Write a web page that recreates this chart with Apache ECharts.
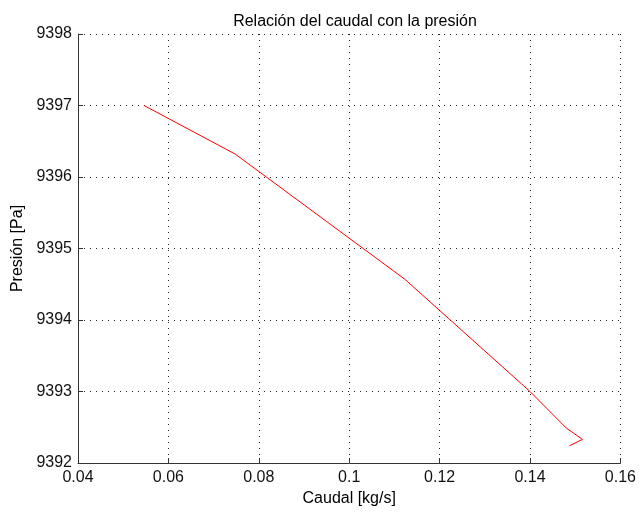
<!DOCTYPE html>
<html>
<head>
<meta charset="utf-8">
<script src="https://cdn.jsdelivr.net/npm/echarts@6/dist/echarts.min.js"></script>
<style>
  html, body { margin: 0; padding: 0; background: #ffffff; }
  #chart { width: 639px; height: 512px; }
</style>
</head>
<body>
<div id="chart"></div>
<script>
// Flow rate (kg/s) against pressure (Pa)
const caudal  = [0.0546, 0.0748, 0.1123, 0.1400, 0.1480, 0.1516, 0.1487];
const presion = [9397.00, 9396.32, 9394.57, 9393.00, 9392.49, 9392.33, 9392.24];

const xTicks = ['0.04', '0.06', '0.08', '0.1', '0.12', '0.14', '0.16'];
const yTicks = ['9392', '9393', '9394', '9395', '9396', '9397', '9398'];

const titleText = 'Relación del caudal con la presión';
const xName = 'Caudal [kg/s]';
const yName = 'Presión [Pa]';

const FONT = '"Liberation Sans", Arial, sans-serif';
const gridStyle = { color: '#222', width: 1, type: [1, 5] };

const chart = echarts.init(document.getElementById('chart'), null, { renderer: 'canvas' });

const xMin = parseFloat(xTicks[0]), xMax = parseFloat(xTicks[xTicks.length - 1]);
const yMin = parseFloat(yTicks[0]), yMax = parseFloat(yTicks[yTicks.length - 1]);

function nearestLabel(list, v) {
  let best = list[0], d = Infinity;
  list.forEach(t => { const dd = Math.abs(parseFloat(t) - v); if (dd < d) { d = dd; best = t; } });
  return best;
}

chart.setOption({
  animation: false,
  backgroundColor: '#ffffff',
  title: {
    text: titleText,
    left: 350, top: 9, textAlign: 'center',
    textStyle: { fontFamily: FONT, fontSize: 16, fontWeight: 'normal', color: '#000' }
  },
  grid: { left: 78, right: 16, top: 34, bottom: 48, containLabel: false },
  xAxis: {
    type: 'value',
    min: xMin, max: xMax, interval: 0.02,
    name: xName, nameLocation: 'middle', nameGap: 28,
    nameTextStyle: { fontFamily: FONT, fontSize: 16, color: '#000' },
    axisLine: { show: true, onZero: false, lineStyle: { color: '#333', width: 1 } },
    axisTick: { show: true, inside: true, length: 5, lineStyle: { color: '#333' } },
    axisLabel: {
      margin: 7, fontFamily: FONT, fontSize: 16, color: '#111',
      formatter: v => nearestLabel(xTicks, v)
    },
    splitLine: { show: true, lineStyle: gridStyle }
  },
  yAxis: {
    type: 'value',
    min: yMin, max: yMax, interval: 1,
    name: yName, nameLocation: 'middle', nameGap: 50, nameRotate: 90,
    nameTextStyle: { fontFamily: FONT, fontSize: 16, color: '#000' },
    axisLine: { show: true, onZero: false, lineStyle: { color: '#333', width: 1 } },
    axisTick: { show: true, inside: true, length: 5, lineStyle: { color: '#333' } },
    axisLabel: {
      margin: 6, fontFamily: FONT, fontSize: 16, color: '#111',
      formatter: v => nearestLabel(yTicks, v)
    },
    splitLine: { show: true, lineStyle: gridStyle }
  },
  series: [{
    type: 'line',
    data: caudal.map((x, i) => [x, presion[i]]),
    showSymbol: false,
    lineStyle: { color: '#ff0000', width: 1 },
    itemStyle: { color: '#ff0000' }
  }]
});
</script>
</body>
</html>
